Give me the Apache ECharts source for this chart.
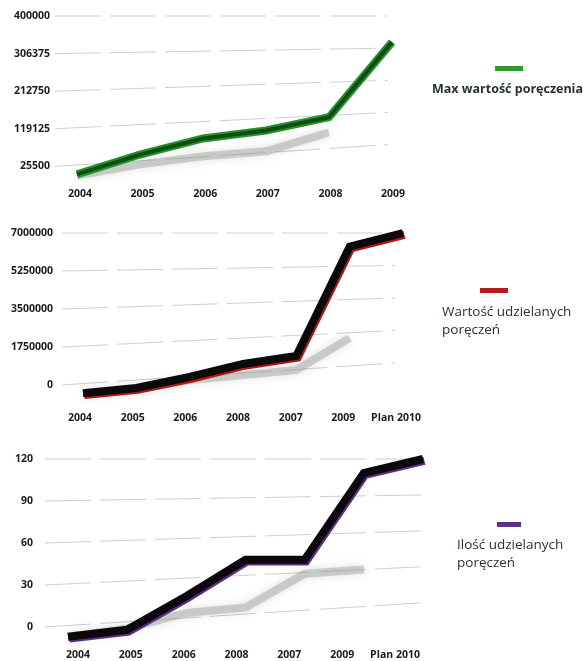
<!DOCTYPE html>
<html>
<head>
<meta charset="utf-8">
<script src="https://cdn.jsdelivr.net/npm/echarts@6/dist/echarts.min.js"></script>
<style>
html,body{margin:0;padding:0;background:#fff;}
#chart{width:583px;height:661px;}
</style>
</head>
<body>
<div id="chart"></div>
<script>
// ---- Data ----
const cats1 = ['2004', '2005', '2006', '2007', '2008', '2009'];
const vals1 = [5500, 55000, 95000, 115000, 148000, 335000];
const shadow1 = [3000, 30500, 50500, 63000, 110000, null];
const ticks1 = [25500, 119125, 212750, 306375, 400000];
const name1 = 'Max wartość poręczenia';

const cats2 = ['2004', '2005', '2006', '2008', '2007', '2009', 'Plan 2010'];
const vals2 = [-380000, -140000, 370000, 970000, 1340000, 6370000, 7000000];
const shadow2 = [-380000, -200000, 230000, 460000, 690000, 2160000, null];
const ticks2 = [0, 1750000, 3500000, 5250000, 7000000];
const name2 = ['Wartość udzielanych', 'poręczeń'];

const cats3 = ['2004', '2005', '2006', '2008', '2007', '2009', 'Plan 2010'];
const vals3 = [-7, -2, 22, 48, 48, 110, 120];
const shadow3 = [-7, -1, 10, 14, 38, 41, null];
const ticks3 = [0, 30, 60, 90, 120];
const name3 = ['Ilość udzielanych', 'poręczeń'];

// ---- Layout / style ----
const FONT = 'Open Sans';
const K = 0.855; // perspective convergence of the grid lines
const panels = [
  { cats: cats1, vals: vals1, shadow: shadow1, ticks: ticks1,
    y: { min: -68125, max: 400000, interval: 93625 },
    bg: { left: 55, right: 195, top: 16, height: 188 },
    data: { left: 77, right: 191 },
    lab: { left: 80, right: 190, top: 170, height: 11 },
    edge: '#23922a', core: '#0b420d', mode: 'green', labMargin: 5 },
  { cats: cats2, vals: vals2, shadow: shadow2, ticks: ticks2,
    y: { min: -1750000, max: 7000000, interval: 1750000 },
    bg: { left: 62, right: 188, top: 233, height: 190 },
    data: { left: 83, right: 180 },
    lab: { left: 80, right: 187, top: 394, height: 11 },
    edge: '#b81414', core: '#0a0a0a', mode: 'dark', labMargin: 9 },
  { cats: cats3, vals: vals3, shadow: shadow3, ticks: ticks3,
    y: { min: -10, max: 120, interval: 10 },
    bg: { left: 45, right: 160, top: 459, height: 182 },
    data: { left: 68, right: 160 },
    lab: { left: 78, right: 188, top: 632, height: 11 },
    edge: '#5e2c86', core: '#0c060e', mode: 'dark', labMargin: 12 }
];

const grid = [], xAxis = [], yAxis = [], series = [];
const axisTextStyle = { fontFamily: FONT, fontSize: 10.5, fontWeight: 'bold', color: '#1c1c1c' };

panels.forEach((p, i) => {
  const gBg = grid.length;
  grid.push({ left: p.bg.left, right: p.bg.right, top: p.bg.top, height: p.bg.height });
  const gData = grid.length;
  grid.push({ left: p.data.left, right: p.data.right, top: p.bg.top, height: p.bg.height });
  const gLab = grid.length;
  grid.push({ left: p.lab.left, right: p.lab.right, top: p.lab.top, height: p.lab.height });

  // background grid: y labels + perspective grid lines
  const xBg = xAxis.length;
  xAxis.push({ gridIndex: gBg, type: 'value', min: 0, max: 1, show: false });
  const yBg = yAxis.length;
  yAxis.push({ gridIndex: gBg, type: 'value', min: p.y.min, max: p.y.max, interval: p.y.interval,
    axisLine: { show: false }, axisTick: { show: false }, splitLine: { show: false },
    axisLabel: Object.assign({ margin: p.labMargin, formatter: v => p.ticks.includes(v) ? String(v) : '' }, axisTextStyle) });

  // data grid
  const xData = xAxis.length;
  xAxis.push({ gridIndex: gData, type: 'category', data: p.cats, boundaryGap: false, show: false });
  const yData = yAxis.length;
  yAxis.push({ gridIndex: gData, type: 'value', min: p.y.min, max: p.y.max, interval: p.y.interval, show: false });

  // label grid: x category labels
  xAxis.push({ gridIndex: gLab, type: 'category', data: p.cats, boundaryGap: false,
    axisLine: { show: false }, axisTick: { show: false },
    axisLabel: Object.assign({ margin: 8, interval: 0 }, axisTextStyle) });
  yAxis.push({ gridIndex: gLab, type: 'value', show: false });

  const yTopVal = p.y.max;
  series.push({
    type: 'custom', xAxisIndex: xBg, yAxisIndex: yBg, silent: true,
    data: p.ticks.map(v => [0, v]),
    encode: { x: 0, y: 1 },
    renderItem: (params, api) => {
      const v = api.value(1);
      const a = api.coord([0, v]);
      const b = api.coord([1, v]);
      const top = api.coord([0, yTopVal])[1];
      const yR = top + (a[1] - top) * K;
      return { type: 'line', shape: { x1: a[0], y1: a[1], x2: b[0], y2: yR },
        style: { stroke: '#cdcfcd', lineWidth: 1, lineDash: [46, 9] } };
    },
    z: 1
  });

  // blurred grey "3D" shadow
  series.push({
    type: 'line', xAxisIndex: xData, yAxisIndex: yData, data: p.shadow,
    symbol: 'none', clip: false, connectNulls: false,
    lineStyle: { color: 'rgba(150,158,150,0.42)', width: 8, shadowBlur: 9, shadowColor: 'rgba(120,130,120,0.6)', join: 'round' },
    z: 2
  });

  if (p.mode === 'green') {
    series.push({
      type: 'line', xAxisIndex: xData, yAxisIndex: yData, data: p.vals,
      symbol: 'none', clip: false,
      lineStyle: { color: p.edge, width: 8, join: 'miter' }, z: 3
    });
    series.push({
      type: 'line', xAxisIndex: xData, yAxisIndex: yData, data: p.vals,
      symbol: 'none', clip: false,
      lineStyle: { color: p.core, width: 4, join: 'miter', opacity: 0.85 }, z: 4
    });
  } else {
    series.push({
      type: 'line', xAxisIndex: xData, yAxisIndex: yData, data: p.vals,
      symbol: 'none', clip: false,
      lineStyle: { color: p.core, width: 8, join: 'miter',
        shadowColor: p.edge, shadowBlur: 0, shadowOffsetX: 1.4, shadowOffsetY: 1.8 }, z: 3
    });
  }
});

const legendText = { fontFamily: FONT, fill: '#27332b' };
const graphic = [
  { type: 'rect', shape: { x: 495, y: 66, width: 28, height: 5 }, style: { fill: '#2e9b2e' } },
  { type: 'text', x: 432, y: 89, style: Object.assign({ text: name1, fontSize: 12.5, fontWeight: 'bold', verticalAlign: 'middle' }, legendText) },
  { type: 'rect', shape: { x: 480, y: 288, width: 28, height: 5 }, style: { fill: '#b31c1c' } },
  { type: 'text', x: 442, y: 312, style: Object.assign({ text: name2[0], fontSize: 13.5, fontWeight: 500, verticalAlign: 'middle' }, legendText) },
  { type: 'text', x: 442, y: 330, style: Object.assign({ text: name2[1], fontSize: 13.5, fontWeight: 500, verticalAlign: 'middle' }, legendText) },
  { type: 'rect', shape: { x: 497, y: 522, width: 24, height: 5 }, style: { fill: '#5e3187' } },
  { type: 'text', x: 457, y: 545, style: Object.assign({ text: name3[0], fontSize: 13.5, fontWeight: 500, verticalAlign: 'middle' }, legendText) },
  { type: 'text', x: 457, y: 563, style: Object.assign({ text: name3[1], fontSize: 13.5, fontWeight: 500, verticalAlign: 'middle' }, legendText) }
];

const chart = echarts.init(document.getElementById('chart'), null, { renderer: 'canvas' });
chart.setOption({
  animation: false,
  backgroundColor: '#ffffff',
  grid, xAxis, yAxis, series, graphic
});
</script>
</body>
</html>
